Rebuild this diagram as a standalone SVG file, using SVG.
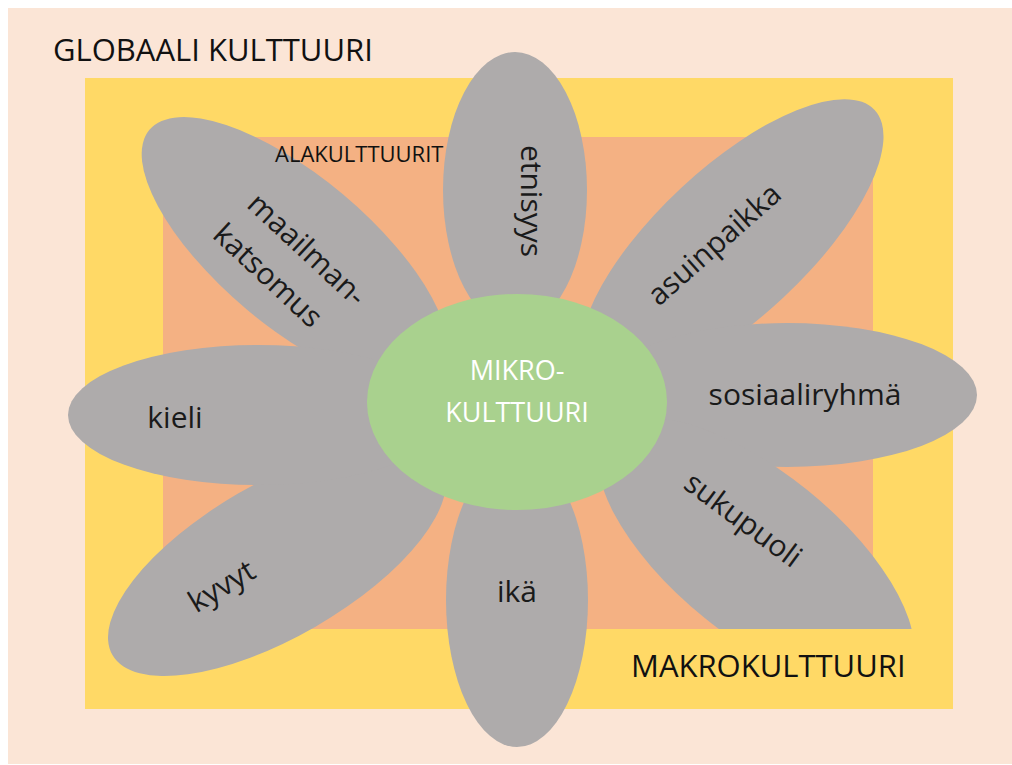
<svg xmlns="http://www.w3.org/2000/svg" width="1012" height="765" viewBox="0 0 1012 765">
<style>
.petal{fill:#AEABAB}
.lbl{font-family:"Open Sans","Liberation Sans",sans-serif;font-size:30px;fill:#1a1a1a}
.title{font-family:"Open Sans","Liberation Sans",sans-serif;fill:#111}
</style>
<defs>
<clipPath id="clipLR"><rect x="0" y="0" width="1012" height="629"/></clipPath>
</defs>
<rect width="1012" height="765" fill="#ffffff"/>
<g id="globaali">
<rect x="8" y="8" width="1004" height="756" fill="#FBE5D6"/>
<text class="title" x="53" y="61" font-size="31">GLOBAALI KULTTUURI</text>
</g>
<g id="makro">
<rect x="85" y="78" width="868" height="631" fill="#FFD966"/>
<text class="title" x="631" y="677" font-size="31">MAKROKULTTUURI</text>
</g>
<g id="ala">
<rect x="163" y="137" width="710" height="492" fill="#F4B183"/>
</g>
<g id="petal-maailmankatsomus">
<ellipse class="petal" cx="0" cy="0" rx="190" ry="75" transform="translate(295,252) rotate(40)"/>
<text class="lbl" text-anchor="middle" transform="translate(300,257) rotate(43)">maailman-</text>
<text class="lbl" text-anchor="middle" transform="translate(261,283) rotate(43)">katsomus</text>
</g>
<g id="petal-etnisyys">
<ellipse class="petal" cx="515" cy="190" rx="72" ry="138"/>
<text class="lbl" text-anchor="middle" transform="translate(527,201) rotate(90)" y="6">etnisyys</text>
</g>
<g id="petal-asuinpaikka">
<ellipse class="petal" cx="0" cy="0" rx="195" ry="75" transform="translate(732,243) rotate(-43)"/>
<text class="lbl" text-anchor="middle" transform="translate(721,252) rotate(-41.5)">asuinpaikka</text>
</g>
<g id="petal-sosiaaliryhma">
<ellipse class="petal" cx="787" cy="395" rx="190" ry="72"/>
<text class="lbl" text-anchor="middle" x="805" y="405">sosiaaliryhmä</text>
</g>
<g id="petal-sukupuoli">
<g clip-path="url(#clipLR)">
<ellipse class="petal" cx="0" cy="0" rx="192" ry="82" transform="translate(756,554) rotate(39)"/>
</g>
<text class="lbl" text-anchor="middle" transform="translate(737,528) rotate(36.5)">sukupuoli</text>
</g>
<g id="petal-ika">
<ellipse class="petal" cx="517" cy="600" rx="71" ry="147"/>
<text class="lbl" text-anchor="middle" x="517" y="602">ikä</text>
</g>
<g id="petal-kyvyt">
<ellipse class="petal" cx="0" cy="0" rx="190" ry="77" transform="translate(277,560) rotate(-30)"/>
<text class="lbl" text-anchor="middle" transform="translate(227,595) rotate(-31)">kyvyt</text>
</g>
<g id="petal-kieli">
<ellipse class="petal" cx="258" cy="415" rx="190" ry="70"/>
<text class="lbl" text-anchor="middle" x="175" y="428">kieli</text>
</g>
<g id="ala-label">
<text class="title" x="275" y="162" font-size="22">ALAKULTTUURIT</text>
</g>
<g id="mikro">
<ellipse cx="517" cy="402" rx="150" ry="108" fill="#A9D18E"/>
<text class="title" text-anchor="middle" x="517" y="380" font-size="27" style="fill:#ffffff">MIKRO-</text>
<text class="title" text-anchor="middle" x="517" y="422" font-size="27" style="fill:#ffffff">KULTTUURI</text>
</g>
<g id="connectors"></g>
</svg>
